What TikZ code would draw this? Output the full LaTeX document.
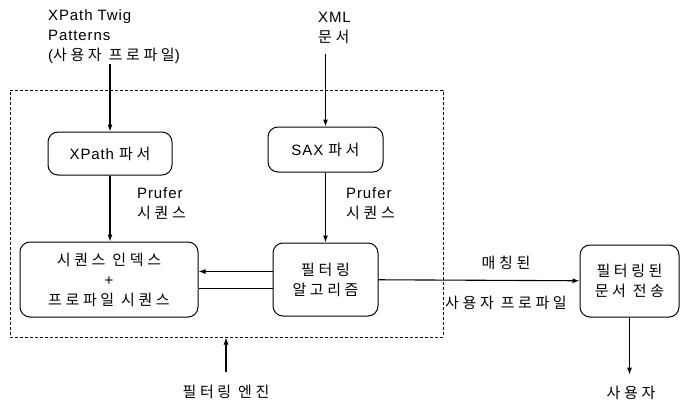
\documentclass[tikz,border=0pt]{standalone}
\usepackage{fontspec}
\setmainfont[LetterSpace=6]{Liberation Sans}
\newfontfamily\kr[LetterSpace=24]{Noto Sans CJK KR}
\usetikzlibrary{arrows.meta, positioning}

\begin{document}
\begin{tikzpicture}[x=1pt, y=-1pt,
    font=\fontsize{15}{20}\selectfont,
    proc/.style={draw, line width=1pt, rounded corners=10pt, align=center, inner sep=0pt},
    engine/.style={draw, line width=1pt, dash pattern=on 3pt off 2pt, inner sep=0pt},
    lbl/.style={align=left, inner sep=0pt, anchor=west},
    arr/.style={-{Latex[length=7pt,width=5pt]}, line width=1.1pt}]
    \useasboundingbox (0,0) rectangle (680,400);

    \node[engine, minimum width=433pt, minimum height=247pt] (engine) at (226.5,213.5) {};

    \node[proc, minimum width=124pt, minimum height=43pt] (xparser) at (110,153.5) {XPath {\kr 파서}};
    \node[proc, minimum width=115pt, minimum height=45pt] (saxparser) at (325.5,149.5) {SAX {\kr 파서}};
    \node[proc, minimum width=178pt, minimum height=75pt] (seqidx) at (109,279.5) {{\kr 시퀀스 인덱스}\\+\\{\kr 프로파일 시퀀스}};
    \node[proc, minimum width=105pt, minimum height=73pt] (filtalg) at (325.5,279.5) {{\kr 필터링}\\{\kr 알고리즘}};
    \node[proc, minimum width=99pt, minimum height=72pt] (sent) at (629.5,281) {{\kr 필터링된}\\{\kr 문서 전송}};

    \node[lbl] (twig) at (48,37) {XPath Twig\\Patterns\\({\kr 사용자 프로파일})};
    \node[lbl] (xml) at (318,28) {XML\\{\kr 문서}};
    \node[lbl] (lprufer) at (137,204) {Prufer\\{\kr 시퀀스}};
    \node[lbl] (rprufer) at (346,204) {Prufer\\{\kr 시퀀스}};
    \node (matched) at (506,263) {\kr 매칭된};
    \node (userprof) at (506,303) {\kr 사용자 프로파일};
    \node (enginelbl) at (226,392) {\kr 필터링 엔진};
    \node (user) at (631,393) {\kr 사용자};

    \draw[arr] (xparser.north |- twig.south) -- (xparser.north);
    \draw[arr, shorten <=10pt] (saxparser.north |- xml.south) -- (saxparser.north);
    \draw[arr] (xparser.south) -- (xparser.south |- seqidx.north);
    \draw[arr] (saxparser.south) -- (saxparser.south |- filtalg.north);
    \draw[arr] ([yshift=8pt]filtalg.west) -- ([yshift=8pt]filtalg.west -| seqidx.east);
    \draw[line width=1.1pt] ([yshift=-9pt]filtalg.west) -- ([yshift=-9pt]filtalg.west -| seqidx.east);
    \draw[arr] (filtalg) -- (sent);
    \draw[arr, shorten >=8pt] (sent.south) -- (sent.south |- user.north);
    \draw[arr, shorten <=10pt] (enginelbl.north) -- (enginelbl.north |- engine.south);
\end{tikzpicture}
\end{document}
